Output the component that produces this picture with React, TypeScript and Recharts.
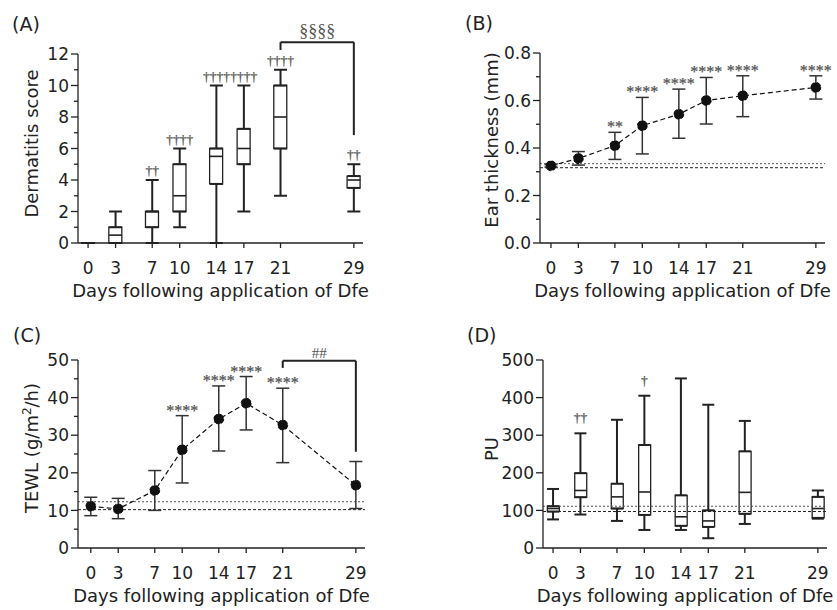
import React from 'react';
import {
  ComposedChart,
  Line,
  Bar,
  XAxis,
  YAxis,
  ErrorBar,
  ReferenceLine,
  ReferenceDot,
} from 'recharts';

const DAYS = [0, 3, 7, 10, 14, 17, 21, 29];

// (A) dermatitis score, box plots
const A_MIN = [0, 0, 0, 1, 0, 2, 3, 2];
const A_Q1 = [0, 0, 1, 2, 3.75, 5, 6, 3.5];
const A_MED = [0, 0.5, 2, 3, 5.5, 6, 8, 4];
const A_Q3 = [0, 1, 2, 5, 6, 7.25, 10, 4.25];
const A_MAX = [0, 2, 4, 6, 10, 10, 11, 5];
const A_SIG = ['', '', '††', '††††', '††††', '††††', '††††', '††'];
const A_TICKS = [0, 1, 2, 3, 4, 5, 6, 7, 8, 9, 10, 11, 12];
const A_MAJOR = [0, 2, 4, 6, 8, 10, 12];
const A_BRACKET = { from: 21, to: 29, top: 12.75, left: 12.25, right: 6.85, text: '§§§§' };

// (B) ear thickness, mean with error
const B_MEAN = [0.325, 0.356, 0.41, 0.494, 0.542, 0.6, 0.62, 0.655];
const B_LO = [0.32, 0.328, 0.352, 0.375, 0.441, 0.501, 0.532, 0.606];
const B_HI = [0.33, 0.385, 0.466, 0.613, 0.648, 0.697, 0.704, 0.704];
const B_SIG = ['', '', '**', '****', '****', '****', '****', '****'];
const B_BASE = [0.317, 0.334];
const B_TICKS = [0, 0.1, 0.2, 0.3, 0.4, 0.5, 0.6, 0.7, 0.8];
const B_MAJOR = [0, 0.2, 0.4, 0.6, 0.8];

// (C) TEWL, mean with error
const C_MEAN = [11.1, 10.4, 15.3, 26.1, 34.3, 38.5, 32.7, 16.7];
const C_LO = [8.6, 7.8, 10.0, 17.3, 25.8, 31.4, 22.7, 10.5];
const C_HI = [13.5, 13.2, 20.6, 35.2, 43.1, 45.6, 42.5, 23.0];
const C_SIG = ['', '', '', '****', '****', '****', '****', ''];
const C_BASE = [10.2, 12.3];
const C_TICKS = [0, 5, 10, 15, 20, 25, 30, 35, 40, 45, 50];
const C_MAJOR = [0, 10, 20, 30, 40, 50];
const C_BRACKET = { from: 21, to: 29, top: 49.8, left: 47.9, right: 25.6, text: '##' };

// (D) PU, box plots
const D_MIN = [76, 89, 72, 48, 48, 26, 64, 78];
const D_Q1 = [97, 135, 105, 88, 59, 56, 91, 80];
const D_MED = [105, 153, 136, 149, 83, 72, 148, 105];
const D_Q3 = [111, 199, 171, 274, 140, 100, 257, 136];
const D_MAX = [157, 305, 341, 405, 451, 381, 338, 153];
const D_SIG = ['', '††', '', '†', '', '', '', ''];
const D_BASE = [97, 111];
const D_TICKS = [0, 100, 200, 300, 400, 500];

const FONT = 'DejaVu Sans';
const SERIF = 'Liberation Serif';
const INK = '#222';
const SIG_INK = '#555';
const W = 418;
const H = 305;

const boxRows = (mn: number[], q1: number[], med: number[], q3: number[], mx: number[], sig: string[]) =>
  DAYS.map((day, i) => ({
    day,
    q1: q1[i],
    q3: q3[i],
    med: med[i],
    max: mx[i],
    box: [q1[i], q3[i]],
    up: [0, mx[i] - q3[i]],
    down: [q1[i] - mn[i], 0],
    sig: sig[i],
  }));

const meanRows = (mean: number[], lo: number[], hi: number[], sig: string[]) =>
  DAYS.map((day, i) => ({
    day,
    mean: mean[i],
    hi: hi[i],
    err: [mean[i] - lo[i], hi[i] - mean[i]],
    sig: sig[i],
  }));

function makeYTick(major: number[], fmt: (v: number) => string) {
  return (props: any) => {
    const { x, y, payload } = props;
    const isMajor = major.includes(payload.value);
    return (
      <g>
        <line x1={x} x2={x - (isMajor ? 7 : 4)} y1={y} y2={y} stroke={INK} strokeWidth={1.3} />
        {isMajor && (
          <text x={x - 9} y={y} dy="0.36em" textAnchor="end" fontFamily={FONT} fontSize={17} fill={INK}>
            {fmt(payload.value)}
          </text>
        )}
      </g>
    );
  };
}

const XTick = (props: any) => {
  const { x, y, payload } = props;
  return (
    <g>
      <line x1={x} x2={x} y1={y} y2={y + 5} stroke={INK} strokeWidth={1.3} />
      <text x={x} y={y + 31} textAnchor="middle" fontFamily={FONT} fontSize={17} fill={INK}>
        {payload.value}
      </text>
    </g>
  );
};

const xLabel = (props: any) => {
  const vb = props.viewBox || { x: 0, y: 243, width: W, height: 50 };
  return (
    <text x={vb.x + vb.width / 2} y={vb.y + 54} textAnchor="middle" fontFamily={FONT} fontSize={18} fill={INK}>
      Days following application of Dfe
    </text>
  );
};

function makeYLabel(content: React.ReactNode, gap: number, shift: number) {
  return (props: any) => {
    const vb = props.viewBox || { x: 18, y: 54, width: 60, height: 189 };
    const cx = vb.x + vb.width - gap;
    const cy = vb.y + vb.height / 2 - shift;
    return (
      <text
        x={cx}
        y={cy}
        transform={`rotate(-90 ${cx} ${cy})`}
        textAnchor="middle"
        fontFamily={FONT}
        fontSize={18}
        fill={INK}
      >
        {content}
      </text>
    );
  };
}

// significance marks sit just above the top of each whisker / error bar
function makeSig(lift: number, size: number) {
  return (props: any) => {
    const { cx, cy, payload, index } = props;
    if (!payload || !payload.sig) return <g key={`s${index}`} />;
    return (
      <text
        key={`s${index}`}
        x={cx}
        y={cy - lift}
        textAnchor="middle"
        fontFamily={SERIF}
        fontSize={size}
        fill={SIG_INK}
        stroke={SIG_INK}
        strokeWidth={0.25}
      >
        {payload.sig}
      </text>
    );
  };
}

function makeMedian(half: number) {
  return (props: any) => {
    const { cx, cy, index } = props;
    return <line key={`m${index}`} x1={cx - half} x2={cx + half} y1={cy} y2={cy} stroke={INK} strokeWidth={1.6} />;
  };
}

const axisLine = { stroke: INK, strokeWidth: 1.3 };

function xAxis(domain: [number, number]) {
  return (
    <XAxis
      type="number"
      dataKey="day"
      domain={domain}
      ticks={DAYS}
      interval={0}
      tick={XTick}
      tickLine={false}
      tickSize={0}
      tickMargin={0}
      axisLine={axisLine}
      height={50}
      label={xLabel}
    />
  );
}

function bracket(b: typeof A_BRACKET, size: number, lift: number) {
  const seg = { stroke: INK, strokeWidth: 2, ifOverflow: 'visible' as const };
  return [
    <ReferenceLine key="b1" segment={[{ x: b.from, y: b.left }, { x: b.from, y: b.top }]} {...seg} />,
    <ReferenceLine key="b2" segment={[{ x: b.from, y: b.top }, { x: b.to, y: b.top }]} {...seg} />,
    <ReferenceLine key="b3" segment={[{ x: b.to, y: b.top }, { x: b.to, y: b.right }]} {...seg} />,
    <ReferenceDot
      key="b4"
      x={(b.from + b.to) / 2}
      y={b.top}
      r={1}
      fill="none"
      stroke="none"
      ifOverflow="visible"
      label={{ value: b.text, position: 'top', offset: lift, fill: SIG_INK, fontSize: size, fontFamily: SERIF }}
    />,
  ];
}

function baseLines(vals: number[]) {
  return vals.map((v, i) => (
    <ReferenceLine
      key={`base${i}`}
      y={v}
      stroke={i === 0 ? INK : '#555'}
      strokeWidth={1}
      strokeDasharray={i === 0 ? '3 2' : '2 2'}
    />
  ));
}

function BoxPanel(props: {
  rows: ReturnType<typeof boxRows>;
  margin: any;
  xDomain: [number, number];
  yDomain: [number, number];
  ticks: number[];
  major: number[];
  label: React.ReactNode;
  gap: number;
  shift: number;
  boxW: number;
  sigLift: number;
  base?: number[];
  extra?: React.ReactNode;
}) {
  const { rows, boxW } = props;
  return (
    <ComposedChart width={W} height={H} data={rows} margin={props.margin}>
      {xAxis(props.xDomain)}
      <YAxis
        type="number"
        domain={props.yDomain}
        ticks={props.ticks}
        interval={0}
        tick={makeYTick(props.major, (v) => String(v))}
        tickLine={false}
        tickSize={0}
        tickMargin={0}
        axisLine={axisLine}
        width={60}
        label={makeYLabel(props.label, props.gap, props.shift)}
      />
      {props.base ? baseLines(props.base) : null}
      <Bar dataKey="box" barSize={boxW} fill="none" stroke={INK} strokeWidth={1.3} isAnimationActive={false} />
      <Line dataKey="q3" stroke="none" dot={false} isAnimationActive={false}>
        <ErrorBar dataKey="up" direction="y" width={boxW / 2} stroke={INK} strokeWidth={2} />
      </Line>
      <Line dataKey="q1" stroke="none" dot={false} isAnimationActive={false}>
        <ErrorBar dataKey="down" direction="y" width={boxW / 2} stroke={INK} strokeWidth={2} />
      </Line>
      <Line dataKey="med" stroke="none" dot={makeMedian(boxW / 2)} isAnimationActive={false} />
      <Line dataKey="max" stroke="none" dot={makeSig(props.sigLift, 13.5)} isAnimationActive={false} />
      {props.extra}
    </ComposedChart>
  );
}

function MeanPanel(props: {
  rows: ReturnType<typeof meanRows>;
  margin: any;
  xDomain: [number, number];
  yDomain: [number, number];
  ticks: number[];
  major: number[];
  fmt: (v: number) => string;
  label: React.ReactNode;
  gap: number;
  shift: number;
  base: number[];
  extra?: React.ReactNode;
}) {
  return (
    <ComposedChart width={W} height={H} data={props.rows} margin={props.margin}>
      {xAxis(props.xDomain)}
      <YAxis
        type="number"
        domain={props.yDomain}
        ticks={props.ticks}
        interval={0}
        tick={makeYTick(props.major, props.fmt)}
        tickLine={false}
        tickSize={0}
        tickMargin={0}
        axisLine={axisLine}
        width={60}
        label={makeYLabel(props.label, props.gap, props.shift)}
      />
      {baseLines(props.base)}
      <Line
        dataKey="mean"
        stroke="#111"
        strokeWidth={1.2}
        strokeDasharray="5 3"
        dot={{ r: 5, fill: '#111', stroke: '#111', strokeWidth: 1 }}
        isAnimationActive={false}
      >
        <ErrorBar dataKey="err" direction="y" width={6.5} stroke="#333" strokeWidth={1.5} />
      </Line>
      <Line dataKey="hi" stroke="none" dot={makeSig(0, 16)} isAnimationActive={false} />
      {props.extra}
    </ComposedChart>
  );
}

const place = (left: number, top: number): React.CSSProperties => ({ position: 'absolute', left, top });

export default function App() {
  const rowsA = boxRows(A_MIN, A_Q1, A_MED, A_Q3, A_MAX, A_SIG);
  const rowsB = meanRows(B_MEAN, B_LO, B_HI, B_SIG);
  const rowsC = meanRows(C_MEAN, C_LO, C_HI, C_SIG);
  const rowsD = boxRows(D_MIN, D_Q1, D_MED, D_Q3, D_MAX, D_SIG);

  return (
    <div style={{ position: 'absolute', left: 0, top: 0, width: 837, height: 610, background: '#fff' }}>
      <div style={place(0, 0)}>
        <BoxPanel
          rows={rowsA}
          margin={{ top: 54, left: 18, right: 55, bottom: 12 }}
          xDomain={[-1.1, 30]}
          yDomain={[0, 12]}
          ticks={A_TICKS}
          major={A_MAJOR}
          label="Dermatitis score"
          gap={40}
          shift={5}
          boxW={13}
          sigLift={5}
          extra={bracket(A_BRACKET, 18, 4)}
        />
      </div>
      <div style={place(419, 0)}>
        <MeanPanel
          rows={rowsB}
          margin={{ top: 53, left: 61, right: 12, bottom: 12 }}
          xDomain={[-1.2, 30]}
          yDomain={[0, 0.8]}
          ticks={B_TICKS}
          major={B_MAJOR}
          fmt={(v) => v.toFixed(1)}
          label="Ear thickness (mm)"
          gap={42}
          shift={8}
          base={B_BASE}
        />
      </div>
      <div style={place(0, 305)}>
        <MeanPanel
          rows={rowsC}
          margin={{ top: 55, left: 18, right: 53, bottom: 12 }}
          xDomain={[-1.4, 30]}
          yDomain={[0, 50]}
          ticks={C_TICKS}
          major={C_MAJOR}
          fmt={(v) => String(v)}
          label={
            <>
              TEWL (g/m
              <tspan dy={-7} fontSize={12}>2</tspan>
              <tspan dy={7}>/h)</tspan>
            </>
          }
          gap={40}
          shift={6}
          base={C_BASE}
          extra={bracket(C_BRACKET, 15, 2)}
        />
      </div>
      <div style={place(419, 305)}>
        <BoxPanel
          rows={rowsD}
          margin={{ top: 55, left: 64, right: 10, bottom: 12 }}
          xDomain={[-1.1, 30]}
          yDomain={[0, 500]}
          ticks={D_TICKS}
          major={D_TICKS}
          label="PU"
          gap={45}
          shift={5}
          boxW={12}
          sigLift={11}
          base={D_BASE}
        />
      </div>
      <svg width={837} height={610} style={{ position: 'absolute', left: 0, top: 0, pointerEvents: 'none' }}>
        <g fontFamily={FONT} fontSize={19} fill={INK}>
          <text x={12} y={31}>(A)</text>
          <text x={465} y={30}>(B)</text>
          <text x={13} y={342}>(C)</text>
          <text x={467} y={342}>(D)</text>
        </g>
      </svg>
    </div>
  );
}
